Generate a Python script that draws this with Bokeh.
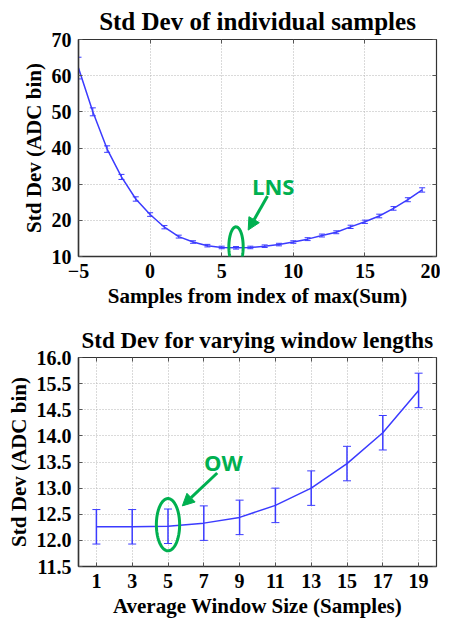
import numpy as np
from bokeh.plotting import figure
from bokeh.models import (ColumnDataSource, Whisker, TeeHead, Arrow, NormalHead, Label,
                          PolyAnnotation, FixedTicker, LinearAxis, Range1d, CustomJSTickFormatter)
from bokeh.layouts import column
from bokeh.embed import file_html
from bokeh.resources import INLINE

# ---------------- data ----------------
# Top: std dev of individual samples
sample_offsets = [-5, -4, -3, -2, -1, 0, 1, 2, 3, 4, 5, 6, 7, 8, 9, 10, 11, 12, 13, 14, 15, 16, 17, 18, 19]
sample_std = [62.1, 50.0, 39.7, 32.0, 25.9, 21.6, 18.1, 15.5, 14.0, 13.0, 12.5, 12.4, 12.5, 12.85, 13.3,
              14.0, 14.8, 15.8, 16.7, 18.2, 19.6, 21.2, 23.3, 25.7, 28.4]
sample_err = [3.0, 1.1, 0.9, 0.7, 0.6, 0.5, 0.45, 0.4, 0.35, 0.35, 0.35, 0.35, 0.35, 0.35, 0.35,
              0.35, 0.4, 0.4, 0.4, 0.45, 0.45, 0.5, 0.5, 0.55, 0.6]
top_xticks = [-5, 0, 5, 10, 15, 20]
top_yticks = [10, 20, 30, 40, 50, 60, 70]

# Bottom: std dev for varying window lengths
window_sizes = [1, 3, 5, 7, 9, 11, 13, 15, 17, 19]
window_std = [12.26, 12.26, 12.27, 12.33, 12.44, 12.67, 13.0, 13.47, 14.06, 14.87]
window_err = [0.33, 0.33, 0.33, 0.33, 0.33, 0.33, 0.33, 0.33, 0.33, 0.33]
bottom_yticks = [11.5, 12.0, 12.5, 13.0, 13.5, 14.0, 14.5, 15.0, 15.5]
bottom_ytick_labels = ["11.5", "12.0", "12.5", "13.0", "13.5", "14.0", "14.5", "15.5", "16.0"]

# ---------------- styles ----------------
BLUE = "#3b3bff"
GREEN = "#00b050"
SERIF = "Liberation Serif"


def style(p, xticks, yticks, title_size, ylabels=None):
    p.title.text_font = SERIF
    p.title.text_font_size = title_size
    p.title.text_font_style = "bold"
    p.title.align = "center"
    p.title.text_color = "black"
    p.outline_line_color = "#333333"
    p.outline_line_width = 1.2
    for ax in p.xaxis + p.yaxis:
        ax.major_label_text_font = SERIF
        ax.major_label_text_font_size = "20px"
        ax.major_label_text_font_style = "bold"
        ax.major_label_text_color = "black"
        ax.axis_label_text_font = SERIF
        ax.axis_label_text_font_size = "21px"
        ax.axis_label_text_font_style = "bold"
        ax.axis_label_text_color = "black"
        ax.axis_line_color = "#333333"
        ax.axis_line_width = 1.5
        ax.major_tick_in = 4
        ax.major_tick_out = 0
        ax.major_tick_line_color = "#555555"
        ax.minor_tick_line_color = None
        ax.major_label_standoff = 7
        ax.axis_label_standoff = 3
    p.xaxis.ticker = FixedTicker(ticks=xticks)
    p.yaxis.ticker = FixedTicker(ticks=yticks)
    if ylabels is not None:
        p.yaxis.major_label_overrides = {t: l for t, l in zip(yticks, ylabels)}
    p.xgrid.ticker = FixedTicker(ticks=xticks)
    p.ygrid.ticker = FixedTicker(ticks=yticks)
    for g in (p.xgrid, p.ygrid):
        g.grid_line_color = "#b5b5b5"
        g.grid_line_dash = "1 2"
        g.grid_line_width = 1
    # MATLAB-like inner ticks on the top and right borders (no labels)
    for loc, tk in (("right", yticks), ("above", xticks)):
        ax = LinearAxis(ticker=FixedTicker(ticks=tk),
                        formatter=CustomJSTickFormatter(code="return ''"),
                        major_label_standoff=0, major_tick_in=4, major_tick_out=0,
                        minor_tick_line_color=None, axis_line_color="#333333",
                        major_tick_line_color="#555555")
        p.add_layout(ax, loc)


def ellipse(p, cx, cy, a, b):
    t = np.linspace(0, 2 * np.pi, 80)
    p.add_layout(PolyAnnotation(xs=list(cx + a * np.cos(t)), ys=list(cy + b * np.sin(t)),
                                fill_color=None, fill_alpha=0, line_color=GREEN,
                                line_alpha=1.0, line_width=3))


# ---------------- top figure ----------------
p1 = figure(title="Std Dev of individual samples", width=440, height=310,
            min_border_left=78, min_border_right=4, min_border_top=39, min_border_bottom=50,
            x_range=Range1d(-5, 20), y_range=Range1d(10, 70),
            output_backend="svg", toolbar_location=None)
p1.xaxis.axis_label = "Samples from index of max(Sum)"
p1.yaxis.axis_label = "Std Dev (ADC bin)"
style(p1, top_xticks, top_yticks, "25px")

s1 = ColumnDataSource(dict(x=sample_offsets, y=sample_std,
                           lo=[v - e for v, e in zip(sample_std, sample_err)],
                           hi=[v + e for v, e in zip(sample_std, sample_err)]))
p1.line("x", "y", source=s1, line_color=BLUE, line_width=1.5)
p1.add_layout(Whisker(base="x", lower="lo", upper="hi", source=s1, line_color=BLUE, line_width=1,
                      upper_head=TeeHead(size=6, line_color=BLUE, line_width=1),
                      lower_head=TeeHead(size=6, line_color=BLUE, line_width=1)))
ellipse(p1, 6.0, 12.7, 0.5, 5.5)
p1.add_layout(Arrow(end=NormalHead(size=12, fill_color=GREEN, line_color=GREEN),
                    x_start=8.2, y_start=26.7, x_end=6.85, y_end=17.3,
                    line_color=GREEN, line_width=3))
p1.add_layout(Label(x=8.6, y=29.4, text="LNS", text_font="Open Sans", text_font_style="bold",
                    text_font_size="22px", text_color=GREEN, text_align="center",
                    text_baseline="middle"))

# ---------------- bottom figure ----------------
p2 = figure(title="Std Dev for varying window lengths", width=440, height=310,
            min_border_left=78, min_border_right=4, min_border_top=47, min_border_bottom=52,
            x_range=Range1d(0, 20), y_range=Range1d(11.5, 15.5),
            output_backend="svg", toolbar_location=None)
p2.xaxis.axis_label = "Average Window Size (Samples)"
p2.yaxis.axis_label = "Std Dev (ADC bin)"
style(p2, window_sizes, bottom_yticks, "23px", bottom_ytick_labels)

s2 = ColumnDataSource(dict(x=window_sizes, y=window_std,
                           lo=[v - e for v, e in zip(window_std, window_err)],
                           hi=[v + e for v, e in zip(window_std, window_err)]))
p2.line("x", "y", source=s2, line_color=BLUE, line_width=1.5)
p2.add_layout(Whisker(base="x", lower="lo", upper="hi", source=s2, line_color=BLUE, line_width=1.5,
                      upper_head=TeeHead(size=8, line_color=BLUE, line_width=1),
                      lower_head=TeeHead(size=8, line_color=BLUE, line_width=1)))
ellipse(p2, 5.0, 12.3, 0.65, 0.5)
p2.add_layout(Arrow(end=NormalHead(size=12, fill_color=GREEN, line_color=GREEN),
                    x_start=7.75, y_start=13.29, x_end=5.8, y_end=12.66,
                    line_color=GREEN, line_width=3))
p2.add_layout(Label(x=8.1, y=13.5, text="OW", text_font="Open Sans", text_font_style="bold",
                    text_font_size="22px", text_color=GREEN, text_align="center",
                    text_baseline="middle"))

layout = column(p1, p2, spacing=0)
open("out.html", "w").write(file_html(layout, INLINE))
